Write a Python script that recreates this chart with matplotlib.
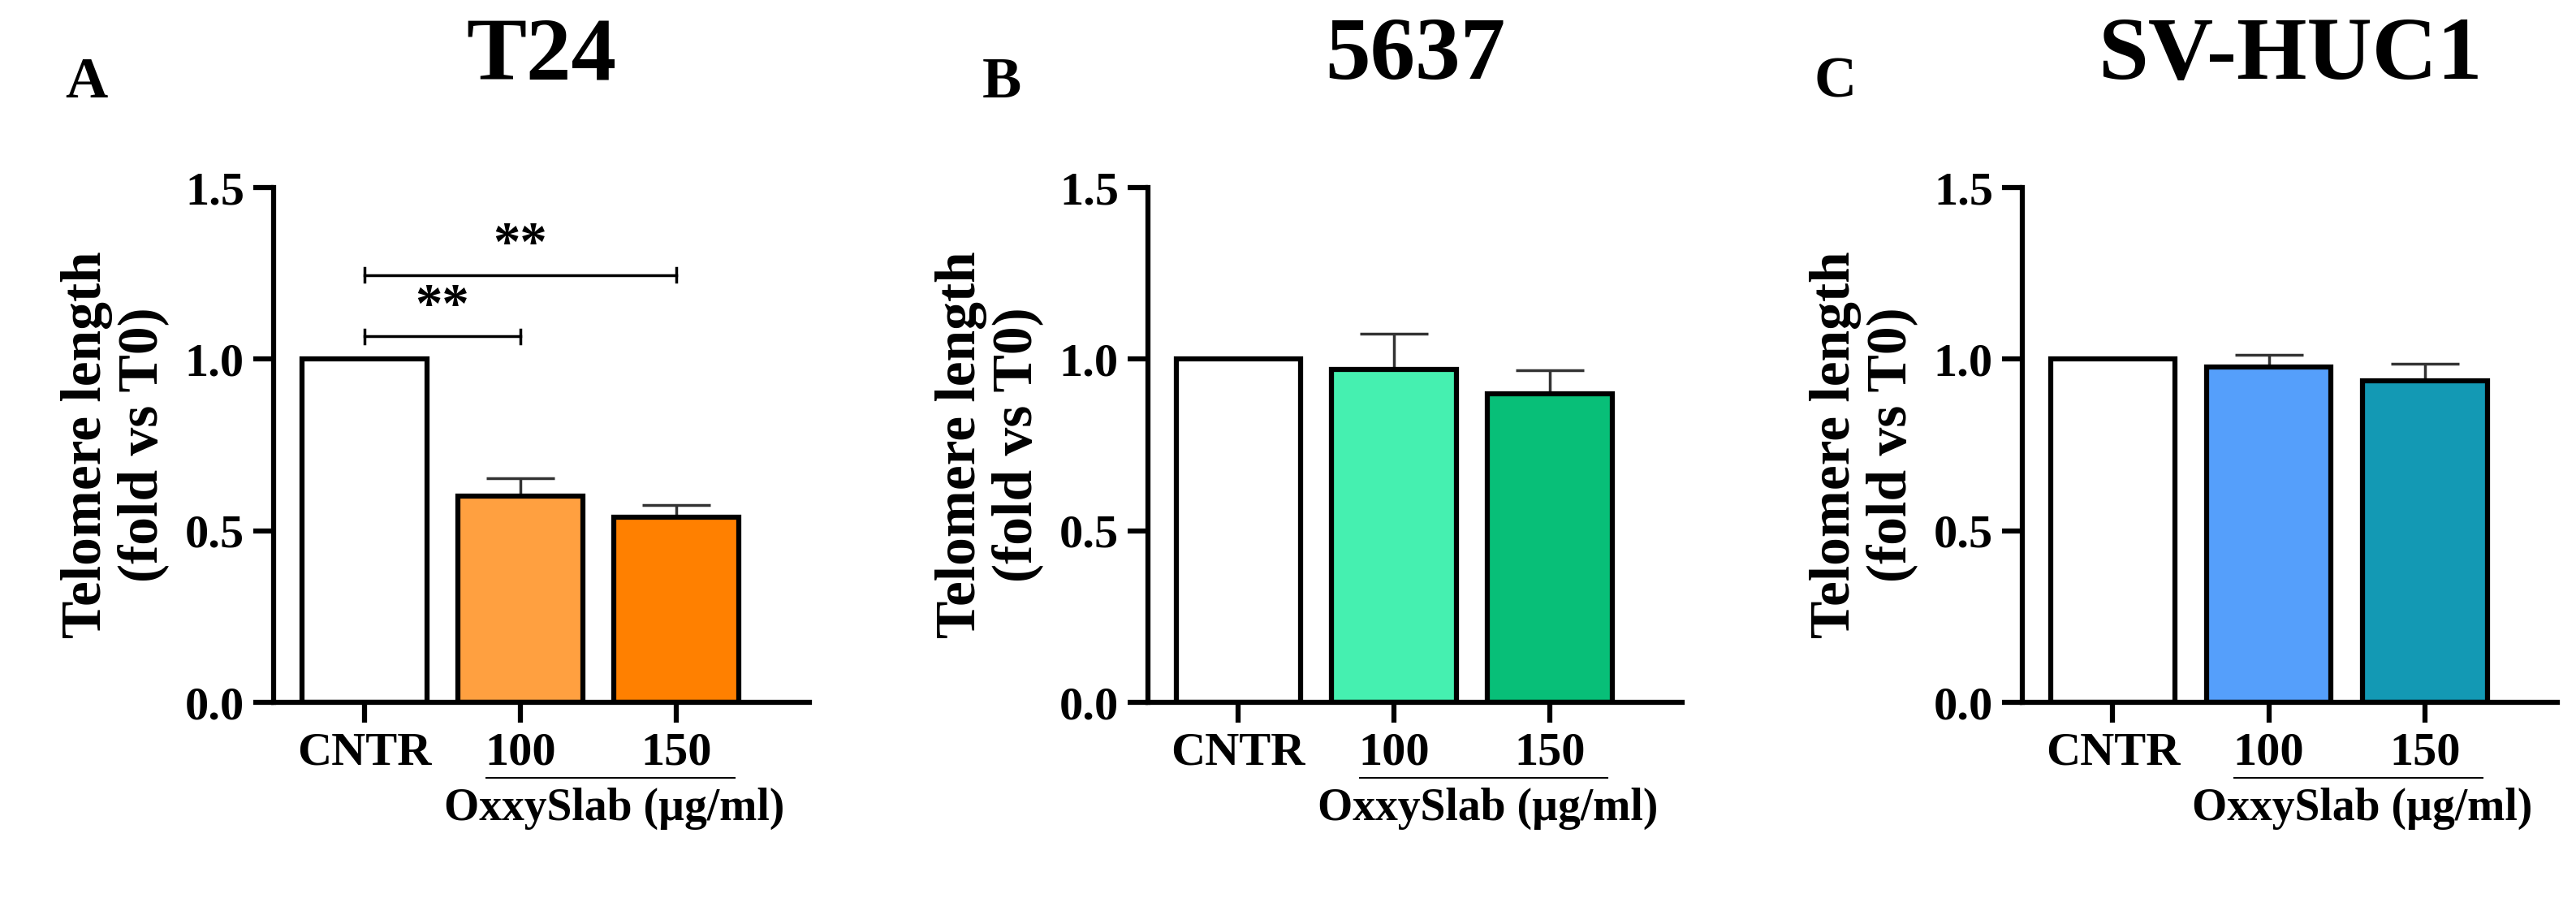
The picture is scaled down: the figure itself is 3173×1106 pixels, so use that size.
import matplotlib.pyplot as plt

# data
groups = ["CNTR", "100", "150"]
titles = ["T24", "5637", "SV-HUC1"]
letters = ["A", "B", "C"]
means_t24 = [1.0, 0.60, 0.54]
err_t24 = [0.0, 0.052, 0.034]
means_5637 = [1.0, 0.97, 0.90]
err_5637 = [0.0, 0.103, 0.067]
means_huc = [1.0, 0.978, 0.938]
err_huc = [0.0, 0.034, 0.048]
colors_t24 = ["white", "#FFA040", "#FF8000"]
colors_5637 = ["white", "#45F0B0", "#08BF78"]
colors_huc = ["white", "#559FFB", "#1399B4"]
yticks = [0.0, 0.5, 1.0, 1.5]

plt.rcParams['font.family'] = ['Liberation Serif', 'DejaVu Serif']
plt.rcParams['font.weight'] = 'bold'

W, H = 3173, 1106
fig = plt.figure(figsize=(W / 100, H / 100), dpi=100)

panels = [(means_t24, err_t24, colors_t24, 337, 997, 80),
          (means_5637, err_5637, colors_5637, 1414, 2072, 1210),
          (means_huc, err_huc, colors_huc, 2491, 3150, 2235)]
top, bottom = 231, 865

for i, (m, e, c, x0, x1, lx) in enumerate(panels):
    ax = fig.add_axes([x0 / W, 1 - bottom / H, (x1 - x0) / W, (bottom - top) / H])
    x = range(len(groups))
    ax.bar(x, m, width=0.8, color=c, edgecolor="black", linewidth=4.5, zorder=2)
    ax.errorbar(x[1:], m[1:], yerr=[[0, 0], e[1:]], fmt="none", ecolor="#333333",
                elinewidth=2.5, capsize=30, capthick=2.5, zorder=1)
    ax.set_xlim(-0.58, 2.85)
    ax.set_ylim(0, 1.5)
    ax.set_yticks(yticks)
    ax.set_yticklabels([f"{v:.1f}" for v in yticks])
    ax.set_xticks(list(x))
    ax.set_xticklabels(groups)
    for s in ["top", "right"]:
        ax.spines[s].set_visible(False)
    for s in ["left", "bottom"]:
        ax.spines[s].set_linewidth(4.5)
    ax.tick_params(width=4.5, length=18, labelsize=42, pad=8)
    ax.set_ylabel("Telomere length\n(fold vs T0)", fontsize=50, fontweight="bold",
                  labelpad=14, linespacing=1.1)
    ax.set_title(titles[i], fontsize=80, fontweight="bold", pad=0,
                 y=(bottom - 70) / (bottom - top), va="center")
    fig.text(lx / W, 1 - 102 / H, letters[i], fontsize=52, fontweight="bold",
             ha="left", va="center")
    # group line and label under 100/150
    ax.plot([0.78, 2.37], [-0.22, -0.22], color="black", lw=1.5, clip_on=False)
    ax.text(1.6, -0.31, "OxxySlab (µg/ml)", fontsize=40, fontweight="bold",
            ha="center", va="center", clip_on=False)
    if i == 0:
        # significance brackets
        for (a, b, y, ys) in [(0, 1, 1.066, 1.15), (0, 2, 1.245, 1.33)]:
            ax.plot([a, b], [y, y], color="black", lw=2.5)
            ax.plot([a, a], [y - 0.02, y + 0.02], color="black", lw=2.5)
            ax.plot([b, b], [y - 0.02, y + 0.02], color="black", lw=2.5)
            ax.text((a + b) / 2, ys, "**", fontsize=48, fontweight="bold",
                    ha="center", va="center")

fig.savefig("out.png", dpi=100)
